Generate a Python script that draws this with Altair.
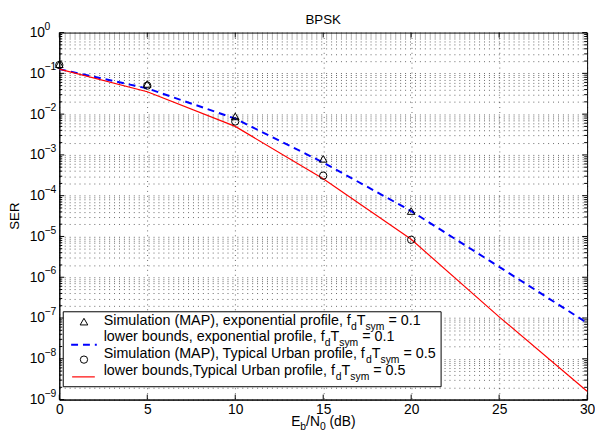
import altair as alt
import pandas as pd

# ---------------- data ----------------
snr_db = [0, 5, 10, 15, 20, 25, 30]
lb_exponential = [0.127, 0.0427, 0.00776, 6.5e-4, 4.2e-5, 1.8e-6, 7.6e-8]
lb_typical_urban = [0.127, 0.0355, 0.0050, 2.6e-4, 8.5e-6, 1.07e-7, 1.6e-9]
sim_snr_db = [0, 5, 10, 15, 20]
sim_exponential = [0.168, 0.055, 0.0088, 8.0e-4, 4.2e-5]
sim_typical_urban = [0.16, 0.05, 0.0066, 3.1e-4, 8.3e-6]
x_tick_values = [0, 5, 10, 15, 20, 25, 30]
y_decade_exponents = [-9, -8, -7, -6, -5, -4, -3, -2, -1, 0]

title_text = "BPSK"
y_title_text = "SER"
x_title_parts = [("E", False), ("b", True), ("/N", False), ("0", True), (" (dB)", False)]
legend_texts = [
    ("Simulation (MAP), exponential profile, f", "0.1"),
    ("lower bounds, exponential profile, f", "0.1"),
    ("Simulation (MAP), Typical Urban profile, f", "0.5"),
    ("lower bounds,Typical Urban profile, f", "0.5"),
]

# ---------------- layout constants ----------------
FONT = "Liberation Sans"
W, H = 535, 372
BLUE, RED = "#0000ff", "#ff0000"

# Helvetica / Arial advance widths (1/1000 em) for laying out sub-scripted text
HW = {' ': 278, '(': 333, ')': 333, ',': 278, '.': 278, '/': 278, '=': 584,
      'A': 667, 'B': 667, 'E': 667, 'M': 833, 'N': 722, 'P': 667, 'S': 667,
      'T': 611, 'U': 722, 'K': 667,
      'a': 556, 'b': 556, 'c': 500, 'd': 556, 'e': 556, 'f': 278, 'i': 222,
      'l': 222, 'm': 833, 'n': 556, 'o': 556, 'p': 556, 'r': 333, 's': 500,
      't': 278, 'u': 556, 'w': 722, 'x': 500, 'y': 500}


def tw(s, size):
    return sum(HW.get(c, 556) for c in s) * size / 1000.0


def rich(parts, x0, base, size, sub_size, sub_dy):
    out = []
    cur = x0
    for txt, is_sub in parts:
        fs = sub_size if is_sub else size
        lead = len(txt) - len(txt.lstrip(" "))
        cur += tw(" " * lead, fs)
        body = txt.lstrip(" ")
        out.append({"px": cur, "py": base + (sub_dy if is_sub else 0), "t": body, "fs": fs})
        cur += tw(body, fs)
    return out


# ---------------- scales ----------------
yscale = alt.Scale(type="log", domain=[1e-9, 1], nice=False)
xscale = alt.Scale(domain=[0, 30], nice=False, zero=False)

y_major = [10.0 ** k for k in y_decade_exponents]
y_minor = [m * 10.0 ** k for k in range(-9, 0) for m in range(2, 10)]
y_all = sorted(y_major + y_minor)

label_expr = ("abs(log(datum.value)/LN10 - round(log(datum.value)/LN10)) < 0.001 ? '10' : ''")

# ---------------- data frames ----------------
lines_df = pd.DataFrame({
    "snr": snr_db * 2,
    "ser": lb_exponential + lb_typical_urban,
    "s": ["exp"] * len(snr_db) + ["tu"] * len(snr_db),
})
sim_df = pd.DataFrame({
    "snr": sim_snr_db * 2,
    "ser": sim_exponential + sim_typical_urban,
    "s": ["exp"] * len(sim_snr_db) + ["tu"] * len(sim_snr_db),
})

# ---------------- layers ----------------
base_x = alt.X("snr:Q", scale=xscale, title=None,
               axis=alt.Axis(values=x_tick_values, grid=True, ticks=False, labelFlush=False))
base_y = alt.Y("ser:Q", scale=yscale, title=None,
               axis=alt.Axis(values=y_all, labelExpr=label_expr, grid=True, ticks=False,
                             labelOverlap=False))

blue_line = alt.Chart(lines_df).transform_filter(alt.datum.s == "exp").mark_line(
    color=BLUE, strokeWidth=2, strokeDash=[7, 5]
).encode(x=base_x, y=base_y)

red_line = alt.Chart(lines_df).transform_filter(alt.datum.s == "tu").mark_line(
    color=RED, strokeWidth=1.2
).encode(x=alt.X("snr:Q", scale=xscale, title=None), y=alt.Y("ser:Q", scale=yscale, title=None))

tri = alt.Chart(sim_df).transform_filter(alt.datum.s == "exp").mark_point(
    shape="triangle-up", filled=False, color="black", size=60, strokeWidth=1, opacity=1
).encode(x=alt.X("snr:Q", scale=xscale, title=None), y=alt.Y("ser:Q", scale=yscale, title=None))

circ = alt.Chart(sim_df).transform_filter(alt.datum.s == "tu").mark_point(
    shape="circle", filled=False, color="black", size=55, strokeWidth=1, opacity=1
).encode(x=alt.X("snr:Q", scale=xscale, title=None), y=alt.Y("ser:Q", scale=yscale, title=None))

# inward ticks (MATLAB style)
ymaj_df = pd.DataFrame({"v": y_major})
ymin_df = pd.DataFrame({"v": y_minor})
xt_df = pd.DataFrame({"x": x_tick_values})

def yticks(df, length):
    left = alt.Chart(df).mark_rule(color="black", strokeWidth=1).encode(
        y=alt.Y("v:Q", scale=yscale, title=None), x=alt.value(0), x2=alt.value(length))
    right = alt.Chart(df).mark_rule(color="black", strokeWidth=1).encode(
        y=alt.Y("v:Q", scale=yscale, title=None), x=alt.value(W - length), x2=alt.value(W))
    return [left, right]

xtick_bottom = alt.Chart(xt_df).mark_rule(color="black", strokeWidth=1).encode(
    x=alt.X("x:Q", scale=xscale, title=None), y=alt.value(H - 5), y2=alt.value(H))
xtick_top = alt.Chart(xt_df).mark_rule(color="black", strokeWidth=1).encode(
    x=alt.X("x:Q", scale=xscale, title=None), y=alt.value(0), y2=alt.value(5))

# exponents of the y tick labels (10^k)
exp_df = pd.DataFrame({
    "v": y_major,
    "t": [("\u2212" + str(-k)) if k < 0 else str(k) for k in y_decade_exponents],
})
exponents = alt.Chart(exp_df).mark_text(
    align="left", baseline="middle", dy=-6, fontSize=10.5, font=FONT, color="black"
).encode(y=alt.Y("v:Q", scale=yscale, title=None), x=alt.value(-15), text="t:N")

# legend box (MATLAB style, inside the plot, lower left)
legend_box = alt.Chart(pd.DataFrame({"a": [0]})).mark_rect(
    fill="white", stroke="black", strokeWidth=1
).encode(x=alt.value(4), x2=alt.value(387), y=alt.value(283), y2=alt.value(359))

sym_y = [293, 316.5, 331.5, 349]
leg_tri = alt.Chart(pd.DataFrame({"a": [0]})).mark_point(
    shape="triangle-up", filled=False, color="black", size=60, strokeWidth=1, opacity=1
).encode(x=alt.value(25), y=alt.value(sym_y[0]))
leg_blue = alt.Chart(pd.DataFrame({"a": [0]})).mark_rule(
    color=BLUE, strokeWidth=2, strokeDash=[7, 5]
).encode(x=alt.value(12), x2=alt.value(38), y=alt.value(sym_y[1]))
leg_circ = alt.Chart(pd.DataFrame({"a": [0]})).mark_point(
    shape="circle", filled=False, color="black", size=55, strokeWidth=1, opacity=1
).encode(x=alt.value(25), y=alt.value(sym_y[2]))
leg_red = alt.Chart(pd.DataFrame({"a": [0]})).mark_rule(
    color=RED, strokeWidth=1.2
).encode(x=alt.value(13), x2=alt.value(36), y=alt.value(sym_y[3]))

pieces = []
baselines = [296, 313, 330, 347]
for (main, val), b in zip(legend_texts, baselines):
    parts = [(main, False), ("d", True), ("T", False), ("sym", True), (" = " + val, False)]
    pieces += rich(parts, 45, b, 14.5, 10.5, 5)
pieces += rich(x_title_parts, 235, 399, 14, 10.5, 4)
pieces_df = pd.DataFrame(pieces)

rich_text = alt.Chart(pieces_df).mark_text(
    align="left", baseline="alphabetic", font=FONT, color="black"
).encode(
    x=alt.X("px:Q", scale=None),
    y=alt.Y("py:Q", scale=None),
    text="t:N",
    size=alt.Size("fs:Q", scale=None, legend=None),
)

title_mark = alt.Chart(pd.DataFrame({"t": [title_text]})).mark_text(
    align="center", baseline="alphabetic", fontSize=13.5, font=FONT, color="black"
).encode(x=alt.value(W / 2), y=alt.value(-9), text="t:N")

ytitle_mark = alt.Chart(pd.DataFrame({"t": [y_title_text]})).mark_text(
    align="center", baseline="middle", angle=270, fontSize=13.5, font=FONT, color="black"
).encode(x=alt.value(-45), y=alt.value(186), text="t:N")

layers = [blue_line, red_line, tri, circ] + yticks(ymaj_df, 5) + yticks(ymin_df, 3) + [
    xtick_bottom, xtick_top, exponents, legend_box, leg_tri, leg_blue, leg_circ, leg_red,
    rich_text, title_mark, ytitle_mark]

chart = alt.layer(*layers).properties(
    width=W, height=H,
    autosize=alt.AutoSizeParams(type="none"),
    padding={"left": 52, "top": 22, "right": 8, "bottom": 33},
).configure_view(
    stroke="black", strokeWidth=1
).configure_axis(
    labelFont=FONT, labelFontSize=14, labelColor="black",
    domainColor="black", domainWidth=1,
    gridColor="#000000", gridOpacity=0.6, gridWidth=1, gridDash=[1, 4],
).configure_axisX(
    labelPadding=3
).configure_axisY(
    labelPadding=15
)

chart.save("out.html", embed_options={"renderer": "svg", "actions": False})
